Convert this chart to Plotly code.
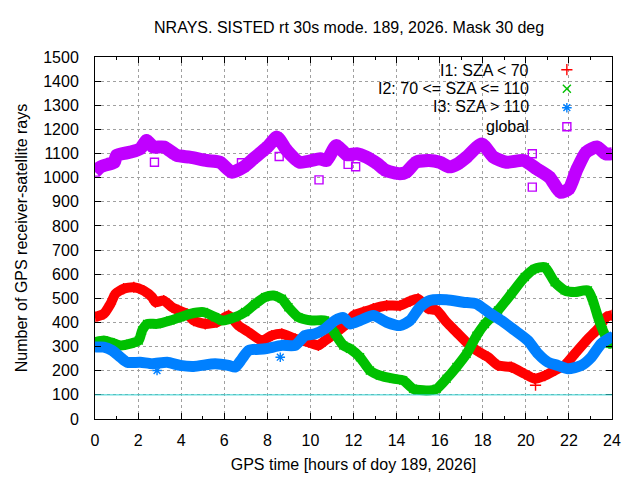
import plotly.graph_objects as go

# GPS time [h] and number of rays
i1_t = [0, 0.41, 0.72, 0.95, 1.33, 1.8, 2.26, 2.65, 2.8, 3.19, 3.58, 3.88, 4.27, 4.58, 5.12, 5.66,
        6.2, 6.66, 7.13, 7.75, 8.21, 8.67, 9.29, 9.91, 10.37, 10.68, 10.91, 11.38, 11.7, 12.0,
        12.46, 12.92, 13.54, 14.16, 14.62, 15.0, 15.47, 15.86, 16.32, 16.78, 17.25, 17.71, 18.25,
        18.71, 19.33, 19.95, 20.41, 20.88, 21.34, 21.8, 22.27, 22.88, 23.35, 23.73, 24.0]
i1_v = [422, 436, 477, 519, 540, 546, 532, 505, 484, 491, 463, 450, 436, 408, 394, 401,
        429, 387, 360, 325, 346, 353, 332, 318, 305, 325, 339, 372, 395, 429,
        443, 457, 470, 470, 488, 498, 457, 450, 401, 360, 318, 284, 256,
        222, 215, 187, 167, 180, 201, 222, 270, 332, 374, 422, 430]

i2_t = [0, 0.41, 0.72, 1.18, 1.64, 2.03, 2.19, 2.42, 2.88, 3.5, 3.96, 4.42, 5.04, 5.58, 5.9, 6.5,
        6.97, 7.44, 7.9, 8.29, 8.67, 8.98, 9.44, 10.06, 10.68, 11.14, 11.53, 11.84, 12.3, 12.76,
        13.22, 13.85, 14.31, 14.77, 15.39, 15.86, 16.32, 16.78, 17.25, 17.71, 18.1, 18.71, 19.33,
        19.95, 20.41, 20.88, 21.34, 21.8, 22.27, 22.88, 23.11, 23.35, 23.58, 23.89, 24.0]
i2_v = [318, 325, 318, 305, 312, 325, 367, 394, 394, 408, 422, 436, 443, 422, 408, 422,
        443, 477, 505, 512, 498, 463, 422, 408, 408, 353, 305, 291, 256, 201,
        180, 167, 160, 125, 118, 125, 167, 215, 270, 345, 394, 450, 519,
        588, 622, 629, 567, 533, 526, 533, 491, 422, 367, 312, 318]

i3_t = [0, 0.41, 0.8, 1.18, 1.49, 2.1, 2.65, 3.35, 3.96, 4.58, 5.58, 6.2, 6.51, 6.82, 7.13, 7.9,
        8.67, 9.29, 9.75, 10.22, 10.68, 11.14, 11.53, 11.84, 12.3, 12.92, 13.54, 14.16, 14.62,
        15.08, 15.54, 16.32, 17.09, 17.71, 18.25, 18.87, 19.49, 20.1, 20.57, 21.03, 21.49, 21.96,
        22.58, 23.04, 23.5, 23.96, 24.0]
i3_v = [298, 298, 284, 256, 235, 235, 229, 235, 222, 218, 229, 222, 215, 249, 284, 291,
        305, 305, 346, 353, 374, 408, 420, 394, 408, 429, 401, 387, 408,
        463, 491, 494, 484, 477, 443, 408, 367, 325, 270, 235, 222, 208,
        222, 256, 312, 339, 340]

gl_t = [0, 0.25, 0.6, 0.9, 1.0, 1.65, 2.1, 2.4, 2.7, 3.2, 3.8, 4.4, 5.2, 5.8, 6.35, 6.9, 7.35,
        8.0, 8.45, 8.9, 9.5, 10.45, 10.75, 11.2, 11.7, 12.15, 12.6, 13.1, 13.5, 14.15, 14.45,
        14.9, 15.5, 16.0, 16.45, 16.85, 17.25, 17.95, 18.5, 19.1, 19.9, 20.5, 21.1, 21.6, 22.0,
        22.35, 22.8, 23.3, 23.7, 24.0]
gl_v = [1023, 1044, 1055, 1064, 1092, 1106, 1120, 1154, 1127, 1127, 1092, 1085, 1071, 1064, 1023,
        1044, 1078, 1127, 1168, 1113, 1064, 1078, 1071, 1133, 1095, 1099, 1085, 1058, 1030, 1016,
        1023, 1064, 1071, 1064, 1045, 1058, 1085, 1140, 1085, 1064, 1071, 1037, 1002, 940, 954,
        1030, 1106, 1127, 1099, 1099]

# isolated samples off the main bands
i1_out_t = [20.45]
i1_out_v = [140]
i2_out_t = []
i2_out_v = []
i3_out_t = [2.88, 8.6]
i3_out_v = [201, 256]
gl_out_t = [2.76, 6.8, 8.55, 10.4, 11.75, 12.1, 20.3, 20.3]
gl_out_v = [1064, 1062, 1088, 991, 1055, 1045, 1099, 961]

names = ["I1: SZA < 70", "I2: 70 <= SZA <= 110", "I3: SZA > 110", "global"]
colors = ["#ff0000", "#00c000", "#0080ff", "#c000ff"]
symbols = ["cross-thin-open", "x-thin-open", "asterisk-open", "square-open"]
band_w = [10, 10, 11, 13]

series = [(i1_t, i1_v, i1_out_t, i1_out_v), (i2_t, i2_v, i2_out_t, i2_out_v),
          (i3_t, i3_v, i3_out_t, i3_out_v), (gl_t, gl_v, gl_out_t, gl_out_v)]

fig = go.Figure()

# each series drawn in turn (band, symbols, stray samples), like gnuplot's plot order
for (t, v, ot, ov), c, s, w in zip(series, colors, symbols, band_w):
    fig.add_trace(go.Scatter(x=t, y=v, mode="lines",
                             line=dict(color=c, width=w, shape="spline", smoothing=0.6),
                             showlegend=False, hoverinfo="skip"))
    # symbols also give the key entry; key texts are written beside as in gnuplot
    fig.add_trace(go.Scatter(x=t + ot, y=v + ov, mode="markers", name=" ",
                             marker=dict(symbol=s, size=8, color=c, line=dict(width=1.4, color=c))))

fig.add_hline(y=100, line=dict(color="#30d0d0", width=1))

key_y = [0.964, 0.912, 0.862, 0.809]
for n, ky in zip(names, key_y):
    fig.add_annotation(text=n, xref="paper", yref="paper", x=0.843, y=ky,
                       xanchor="right", yanchor="middle", showarrow=False,
                       font=dict(size=16, color="#000000"))

axis_common = dict(showline=True, linecolor="black", linewidth=1, mirror="allticks",
                   ticks="inside", ticklen=6, tickcolor="black", zeroline=False, automargin=False,
                   showgrid=True, gridcolor="#a0a0a0", griddash="dot", gridwidth=1,
                   tickfont=dict(size=16, color="black"))

fig.update_xaxes(range=[0, 24], dtick=2, tick0=0, ticklabelstandoff=7,
                 minor=dict(dtick=1, ticks="inside", ticklen=3, tickcolor="black", showgrid=False),
                 title=dict(text="GPS time [hours of doy 189, 2026]", font=dict(size=16), standoff=10),
                 **axis_common)
fig.update_yaxes(range=[0, 1500], dtick=100, tick0=0, ticklabelstandoff=12,
                 title=dict(text="Number of GPS receiver-satellite rays", font=dict(size=16), standoff=11),
                 **axis_common)

# the page adds an 8 px body margin, so margins are shifted by that amount
fig.update_layout(
    width=640, height=480,
    margin=dict(l=87, r=36, t=49, b=69),
    paper_bgcolor="white", plot_bgcolor="white",
    font=dict(family="Liberation Sans, Arial, sans-serif", size=16, color="black"),
    title=dict(text="NRAYS. SISTED rt 30s mode. 189, 2026. Mask 30 deg", x=0.533, xanchor="center",
               y=0.96, yanchor="middle", font=dict(size=16)),
    legend=dict(x=0.874, y=1.005, xanchor="left", yanchor="top", bgcolor="rgba(0,0,0,0)",
                tracegroupgap=0, itemwidth=30, font=dict(size=12)),
)

fig.write_html("out.html")
